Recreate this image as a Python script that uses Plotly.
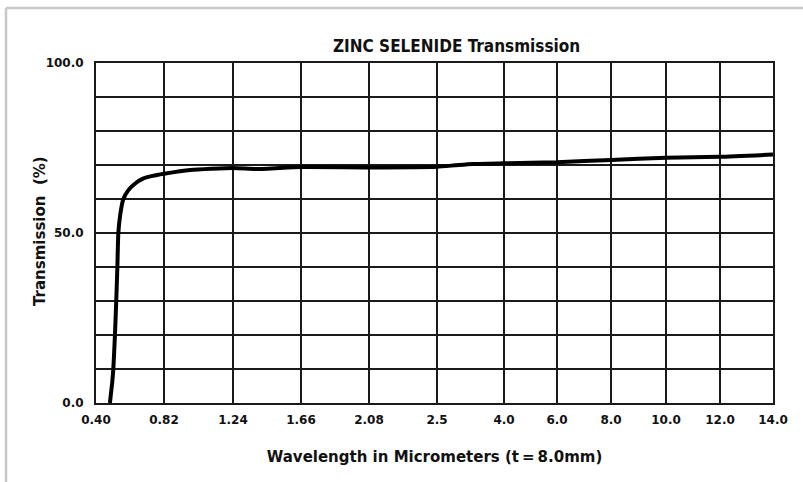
import numpy as np
import plotly.graph_objects as go

# Axis tick labels (wavelength, micrometers) and their break-points on the chart's
# non-uniform wavelength scale (relative units along the axis)
tick_wavelengths = [0.40, 0.82, 1.24, 1.66, 2.08, 2.5, 4.0, 6.0, 8.0, 10.0, 12.0, 14.0]
tick_labels = ["0.40", "0.82", "1.24", "1.66", "2.08", "2.5", "4.0", "6.0", "8.0", "10.0", "12.0", "14.0"]
axis_breaks = [0, 68, 137, 205, 273, 341, 408, 461, 515, 570, 624, 677]

# Transmission curve
wavelength = [0.486, 0.500, 0.507, 0.517, 0.525, 0.532, 0.538, 0.550, 0.569, 0.600,
              0.640, 0.690, 0.750, 0.820, 0.980, 1.240, 1.390, 1.660, 2.080, 2.500,
              2.900, 3.300, 4.000, 6.000, 8.000, 10.00, 12.00, 14.00]
transmission = [0.0, 6.0, 10.0, 20.0, 30.0, 40.0, 50.0, 55.5, 60.0, 62.6,
                64.5, 66.0, 66.8, 67.4, 68.5, 69.1, 68.8, 69.4, 69.3, 69.5,
                69.9, 70.3, 70.5, 70.8, 71.5, 72.1, 72.4, 73.1]

y_grid = list(range(0, 101, 10))
y_labels = ["0.0" if v == 0 else "50.0" if v == 50 else "100.0" if v == 100 else "" for v in y_grid]

xpos = np.interp(wavelength, tick_wavelengths, axis_breaks)

fig = go.Figure()
fig.add_trace(go.Scatter(x=xpos, y=transmission, mode="lines",
                         line=dict(color="black", width=4, shape="spline", smoothing=0.5),
                         hoverinfo="skip", showlegend=False))

font_b = "DejaVu Sans, Verdana, sans-serif"
fig.update_layout(
    width=803, height=482,
    margin=dict(l=96, r=30, t=63, b=79),
    paper_bgcolor="white", plot_bgcolor="white",
    xaxis=dict(range=[0, 677], tickvals=axis_breaks, ticktext=tick_labels,
               showgrid=True, gridcolor="#1a1a1a", gridwidth=1.5,
               showline=True, linecolor="#1a1a1a", linewidth=2, mirror=True,
               ticks="", zeroline=False, ticklabelstandoff=5,
               tickfont=dict(family=font_b, size=12, color="#111", weight="bold"),
               title=dict(text="Wavelength in Micrometers (t\u2009=\u20098.0mm)",
                          font=dict(family=font_b, size=15, color="#111", weight="bold"),
                          standoff=25)),
    yaxis=dict(range=[0, 100], tickvals=y_grid, ticktext=y_labels,
               showgrid=True, gridcolor="#1a1a1a", gridwidth=1.5,
               showline=True, linecolor="#1a1a1a", linewidth=2, mirror=True,
               ticks="", zeroline=False, ticklabelstandoff=8,
               tickfont=dict(family=font_b, size=12, color="#111", weight="bold")),
    annotations=[dict(text="ZINC SELENIDE Transmission", xref="paper", yref="paper",
                      x=(456 - 96) / 677, y=(403 - 46) / 340, xanchor="center", yanchor="middle",
                      showarrow=False,
                      font=dict(family="DejaVu Sans Condensed, sans-serif",
                                size=17, color="#111", weight="bold")),
                 dict(text="Transmission  (%)", xref="paper", yref="paper",
                      x=(40 - 96) / 677, y=(403 - 231) / 340, xanchor="center", yanchor="middle",
                      textangle=-90, showarrow=False,
                      font=dict(family=font_b, size=15, color="#111", weight="bold"))],
    shapes=[dict(type="line", xref="paper", yref="paper",
                 x0=(6 - 96) / 677, x1=2, y0=(403 - 8) / 340, y1=(403 - 8) / 340,
                 line=dict(color="#c8c8c8", width=2.5)),
            dict(type="line", xref="paper", yref="paper",
                 x0=(6 - 96) / 677, x1=(6 - 96) / 677, y0=-1, y1=(403 - 8) / 340,
                 line=dict(color="#c8c8c8", width=2.5))],
)

fig.write_html("out.html", config={"displayModeBar": False},
               post_script="document.body.style.margin='0';")
